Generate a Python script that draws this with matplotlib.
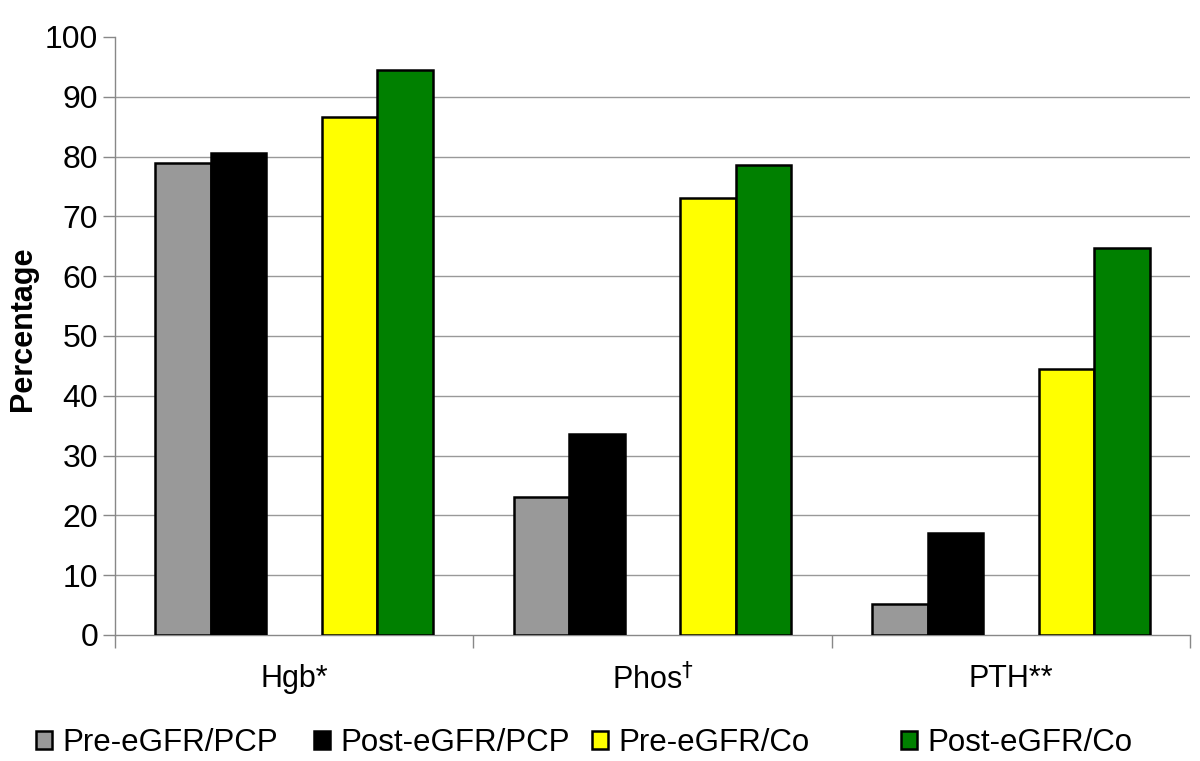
import matplotlib
matplotlib.use("Agg")
import matplotlib.pyplot as plt
import numpy as np

plt.rcParams['font.family'] = ['Liberation Sans', 'DejaVu Sans']

categories = ["Hgb*", "Phos$^{\\dagger}$", "PTH**"]
series_names = ["Pre-eGFR/PCP", "Post-eGFR/PCP", "Pre-eGFR/Co", "Post-eGFR/Co"]
pre_pcp = [78.9, 23.1, 5.2]
post_pcp = [80.6, 33.6, 17.1]
pre_co = [86.6, 73.1, 44.5]
post_co = [94.5, 78.6, 64.7]
colors = ["#999999", "#000000", "#ffff00", "#008000"]

fig = plt.figure(figsize=(12, 7.61), dpi=100)
ax = fig.add_axes([0.0958, 0.1656, 0.8959, 0.7858])

x = np.arange(len(categories))
w = 0.155
# slots: gray, black, (gap), yellow, green
offsets = [-2, -1, 1, 2]
bars = []
for vals, off, col, name in zip([pre_pcp, post_pcp, pre_co, post_co], offsets, colors, series_names):
    b = ax.bar(x + off * w, vals, w, color=col, edgecolor='black', linewidth=1.8,
               label=name, zorder=3)
    bars.append(b)

ax.set_xlim(-0.5, 2.5)
ax.set_ylim(0, 100)
ax.set_yticks(range(0, 101, 10))
ax.tick_params(axis='y', labelsize=23, length=9, color='#888888', width=1, pad=3)
ax.set_xticks(x)
ax.set_xticklabels(categories, fontsize=22)
ax.tick_params(axis='x', length=0, pad=21)
ax.set_xticks([-0.5, 0.5, 1.5, 2.5], minor=True)
ax.tick_params(axis='x', which='minor', length=9, color='#888888', width=1)

for yv in range(10, 100, 10):
    ax.axhline(yv, color='#999999', linewidth=1, zorder=1)

for s in ['top', 'right']:
    ax.spines[s].set_visible(False)
for s in ['left', 'bottom']:
    ax.spines[s].set_color('#888888')
    ax.spines[s].set_linewidth(1)

ax.set_ylabel("Percentage", fontsize=22, fontweight='bold')
ax.yaxis.set_label_coords(-0.0716, 0.512)

# legend entries placed individually, as in the original layout
legend_x = [36, 314, 592, 901]
for b, name, lx in zip(bars, series_names, legend_x):
    fig.legend(handles=[b], labels=[name], loc='center left',
               bbox_to_anchor=(lx / 1200, 1 - 743 / 761), frameon=False,
               fontsize=22.5, handlelength=0.5, handleheight=0.5, handletextpad=0.35,
               borderpad=0, borderaxespad=0)

plt.savefig("out.png", dpi=100)
